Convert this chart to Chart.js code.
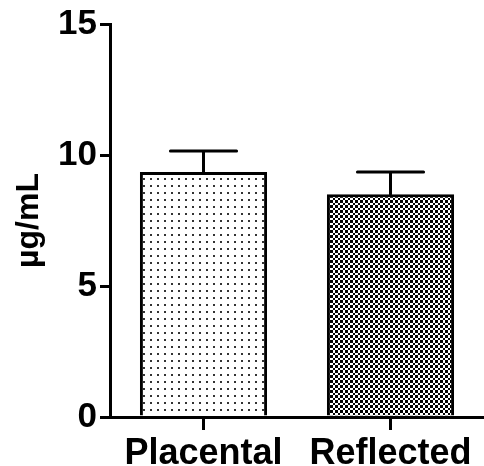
<!DOCTYPE html>
<html>
<head>
  <meta charset="UTF-8">
  <title>µg/mL</title>
  <script src="https://cdn.jsdelivr.net/npm/chart.js"></script>
  <style>
    html, body { margin: 0; padding: 0; background: #fff; }
    #wrap { width: 484px; height: 466px; }
  </style>
</head>
<body>
  <div id="wrap"><canvas id="chart"></canvas></div>

  <script>
    const categories = ["Placental", "Reflected"];
    const means = [9.35, 8.5];
    const errors = [0.8, 0.85];
    const yTicks = [0, 5, 10, 15];

    const FONT = "'Liberation Sans', Arial, sans-serif";

    // fill patterns: fine dots and a small checkerboard
    function dotPattern() {
      const c = document.createElement("canvas");
      c.width = 7; c.height = 7;
      const g = c.getContext("2d");
      g.fillStyle = "#fff";
      g.fillRect(0, 0, 7, 7);
      g.fillStyle = "#333";
      g.fillRect(3, 3, 2, 2);
      return g.createPattern(c, "repeat");
    }

    function checkPattern() {
      const c = document.createElement("canvas");
      c.width = 5; c.height = 5;
      const g = c.getContext("2d");
      g.fillStyle = "#fff";
      g.fillRect(0, 0, 5, 5);
      g.fillStyle = "#000";
      g.fillRect(0, 0, 3, 3);
      g.fillRect(3, 3, 2, 2);
      return g.createPattern(c, "repeat");
    }

    // upper error bars only
    const errorBars = {
      id: "errorBars",
      afterDatasetsDraw(chart) {
        const ctx = chart.ctx;
        const meta = chart.getDatasetMeta(0);
        const y = chart.scales.y;
        ctx.save();
        ctx.strokeStyle = "#000";
        ctx.lineWidth = 3;
        ctx.lineCap = "round";
        meta.data.forEach((bar, i) => {
          const top = y.getPixelForValue(means[i] + errors[i]);
          const base = y.getPixelForValue(means[i]);
          const half = bar.width * 0.26;
          ctx.beginPath();
          ctx.moveTo(bar.x, base);
          ctx.lineTo(bar.x, top);
          ctx.moveTo(bar.x - half, top);
          ctx.lineTo(bar.x + half, top);
          ctx.stroke();
        });
        ctx.restore();
      }
    };

    new Chart(document.getElementById("chart"), {
      type: "bar",
      data: {
        labels: categories,
        datasets: [{
          data: means,
          backgroundColor: [dotPattern(), checkPattern()],
          borderColor: "#000",
          borderWidth: 3,
          borderSkipped: "bottom",
          barPercentage: 0.68,
          categoryPercentage: 1
        }]
      },
      options: {
        animation: false,
        responsive: true,
        maintainAspectRatio: false,
        layout: { padding: { top: 22, right: 0, left: 0, bottom: 0 } },
        scales: {
          y: {
            min: 0,
            max: 15,
            afterBuildTicks: s => { s.ticks = yTicks.map(v => ({ value: v })); },
            afterFit: s => { s.width = 110; },
            border: { display: true, color: "#000", width: 3 },
            grid: { drawOnChartArea: false, drawTicks: true, tickLength: 10, color: "#000", lineWidth: 3 },
            ticks: { color: "#000", padding: 3, font: { family: FONT, size: 35, weight: "bold" } },
            title: {
              display: true,
              text: "µg/mL",
              color: "#000",
              padding: { top: 10, bottom: 6 },
              font: { family: FONT, size: 32, weight: "bold" }
            }
          },
          x: {
            offset: true,
            afterFit: s => { s.height = 49; },
            border: { display: true, color: "#000", width: 3 },
            grid: { drawOnChartArea: false, drawTicks: true, tickLength: 13, color: "#000", lineWidth: 3, offset: false },
            ticks: { color: "#000", padding: 2, maxRotation: 0, font: { family: FONT, size: 36, weight: "bold" } }
          }
        },
        plugins: {
          legend: { display: false },
          tooltip: { enabled: false }
        }
      },
      plugins: [errorBars]
    });
  </script>
</body>
</html>
